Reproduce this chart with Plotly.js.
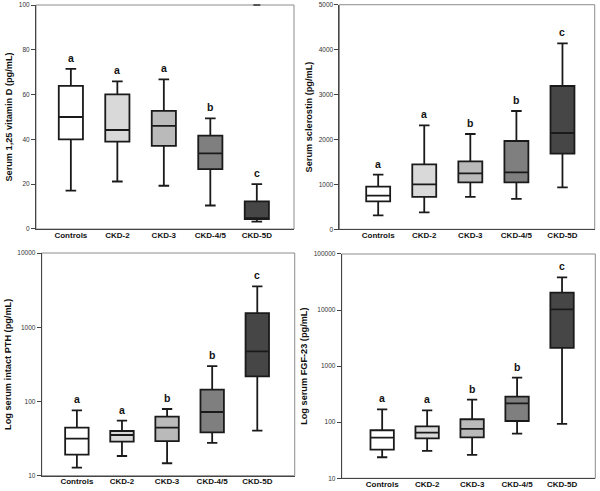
<!DOCTYPE html>
<html><head><meta charset="utf-8">
<script src="https://cdn.plot.ly/plotly-3.0.1.min.js"></script>
<style>html,body{margin:0;padding:0;background:#fff}#chart{width:600px;height:491px}</style>
</head><body><div id="chart"></div>
<script>
const categories = ['Controls','CKD-2','CKD-3','CKD-4/5','CKD-5D'];
const fills = ['#ffffff','#d9d9d9','#bababa','#7f7f7f','#464646'];

// Serum 1,25 vitamin D (pg/mL)
const vitD_upper  = [71.5, 65.9, 66.8, 49.4, 20.0];
const vitD_q3     = [63.9, 60.1, 52.7, 41.7, 12.3];
const vitD_median = [50.0, 44.2, 46.0, 33.8, 4.8];
const vitD_q1     = [40.0, 39.0, 37.1, 26.7, 4.4];
const vitD_lower  = [17.1, 21.2, 19.3, 10.5, 3.3];
const vitD_letters = ['a','a','a','b','c'];
const vitD_outlierX = ['CKD-5D'];
const vitD_outlierY = [100];

// Serum sclerostin (pg/mL)
const scl_upper  = [1217, 2315, 2122, 2634, 4139];
const scl_q3     = [950, 1447, 1513, 1966, 3190];
const scl_median = [749, 1001, 1246, 1269, 2144];
const scl_q1     = [623, 720, 1046, 1046, 1684];
const scl_lower  = [312, 378, 720, 675, 935];
const scl_letters = ['a','a','b','b','c'];

// Log serum intact PTH (pg/mL)
const pth_upper  = [75.9, 55.1, 79.1, 300, 3556];
const pth_q3     = [44.4, 40.0, 62.4, 144, 1553];
const pth_median = [31.5, 35.3, 44.4, 72.1, 473];
const pth_q1     = [19.2, 28.7, 29.3, 38.4, 218];
const pth_lower  = [12.8, 18.4, 14.7, 27.6, 40.4];
const pth_letters = ['a','a','b','b','c'];

// Log serum FGF-23 (pg/mL)
const fgf_upper  = [170, 163, 253, 624, 38370];
const fgf_q3     = [71.8, 84.6, 113, 286, 20450];
const fgf_median = [53.1, 65.2, 75.9, 217, 10300];
const fgf_q1     = [32.4, 51.6, 53.8, 105, 2110];
const fgf_lower  = [23.7, 30.7, 26.1, 62.5, 93];
const fgf_letters = ['a','a','b','b','c'];

const pthTicks = [10, 100, 1000, 10000];
const pthTickText = ['10', '100', '1000', '10000'];
const fgfTicks = [10, 100, 1000, 10000, 100000];
const fgfTickText = ['10', '100', '1000', '10000', '100000'];

const panels = [
  {ax:'', lo:vitD_lower, q1:vitD_q1, med:vitD_median, q3:vitD_q3, hi:vitD_upper, letters:vitD_letters, log:false},
  {ax:'2', lo:scl_lower, q1:scl_q1, med:scl_median, q3:scl_q3, hi:scl_upper, letters:scl_letters, log:false},
  {ax:'3', lo:pth_lower, q1:pth_q1, med:pth_median, q3:pth_q3, hi:pth_upper, letters:pth_letters, log:true},
  {ax:'4', lo:fgf_lower, q1:fgf_q1, med:fgf_median, q3:fgf_q3, hi:fgf_upper, letters:fgf_letters, log:true}
];

const traces = [];
const annotations = [];
const shapes = [];
panels.forEach(p => {
  categories.forEach((c, i) => {
    traces.push({
      type:'box', x:[c], q1:[p.q1[i]], median:[p.med[i]], q3:[p.q3[i]],
      lowerfence:[p.lo[i]], upperfence:[p.hi[i]],
      xaxis:'x'+p.ax, yaxis:'y'+p.ax,
      fillcolor:fills[i], line:{color:'#1a1a1a', width:1.8},
      width:0.52, whiskerwidth:0.44, boxpoints:false,
      hoverinfo:'skip', showlegend:false
    });
    annotations.push({
      xref:'x'+p.ax, yref:'y'+p.ax, x:c,
      y: p.log ? Math.log10(p.hi[i]) : p.hi[i],
      text:p.letters[i], showarrow:false, yanchor:'middle', yshift:11,
      font:{family:'Liberation Sans, Arial', size:10.5, color:'#111', weight:'bold'}
    });
  });
  shapes.push({type:'rect', xref:'x'+p.ax+' domain', yref:'y'+p.ax+' domain', x0:0, x1:1, y0:0, y1:1,
    line:{color:'#8c8c8c', width:1}, layer:'below'});
});

traces.push({type:'scatter', mode:'markers', x:vitD_outlierX, y:vitD_outlierY, xaxis:'x', yaxis:'y',
  marker:{symbol:'line-ew-open', size:5, color:'#333', line:{color:'#333', width:1.5}}, cliponaxis:false,
  hoverinfo:'skip', showlegend:false});

const tickFont = {family:'Liberation Sans, Arial', size:6.5, color:'#333'};
const xFont = {family:'Liberation Sans, Arial', size:8, color:'#111', weight:'bold'};
const titleFont = {family:'Liberation Sans, Arial', size:9.2, color:'#111', weight:'bold'};

function xax(domain, range, anchor) {
  return {domain:domain, range:range, anchor:anchor, type:'category', showgrid:false, zeroline:false,
    showline:true, linecolor:'#444', linewidth:1, ticks:'', tickfont:xFont, fixedrange:true,
    ticklabelstandoff:-2};
}
function yax(domain, anchor, extra) {
  return Object.assign({domain:domain, anchor:anchor, showgrid:false, zeroline:false,
    showline:true, linecolor:'#444', linewidth:1, ticks:'outside', ticklen:4, tickcolor:'#444',
    tickfont:tickFont, fixedrange:true}, extra);
}

const layout = {
  width:600, height:491, margin:{l:0, r:0, t:0, b:0},
  paper_bgcolor:'#fff', plot_bgcolor:'#fff', boxmode:'overlay',
  xaxis:  xax([0.060, 0.490], [-0.75, 4.80], 'y'),
  xaxis2: xax([0.5658, 0.9912], [-0.84, 4.70], 'y2'),
  xaxis3: xax([0.0695, 0.4912], [-0.78, 4.83], 'y3'),
  xaxis4: xax([0.5695, 0.9922], [-0.90, 4.74], 'y4'),
  yaxis:  yax([0.5336, 0.9898], 'x', {range:[0,100], tickvals:[0,20,40,60,80,100],
            title:{text:'Serum 1,25 vitamin D (pg/mL)', font:titleFont, standoff:4}}),
  yaxis2: yax([0.5330, 0.9904], 'x2', {range:[0,5000], tickvals:[0,1000,2000,3000,4000,5000],
            title:{text:'Serum sclerostin (pg/mL)', font:titleFont, standoff:4}}),
  yaxis3: yax([0.0312, 0.4847], 'x3', {type:'log', range:[1,4], tickvals:pthTicks, ticktext:pthTickText,
            title:{text:'Log serum intact PTH (pg/mL)', font:titleFont, standoff:4}}),
  yaxis4: yax([0.0259, 0.4827], 'x4', {type:'log', range:[1,5], tickvals:fgfTicks, ticktext:fgfTickText,
            title:{text:'Log serum FGF-23 (pg/mL)', font:titleFont, standoff:4}}),
  annotations:annotations, shapes:shapes
};

Plotly.newPlot('chart', traces, layout, {displayModeBar:false, staticPlot:true});
</script></body></html>
